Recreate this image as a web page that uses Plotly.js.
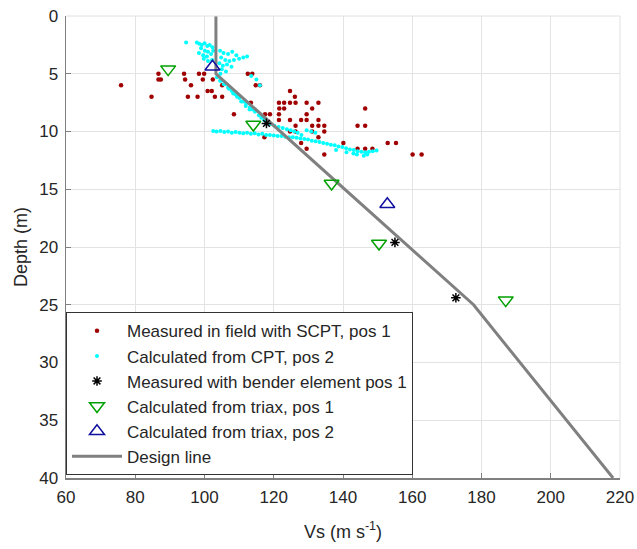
<!DOCTYPE html>
<html>
<head>
<meta charset="utf-8">
<script src="https://cdn.plot.ly/plotly-3.0.1.min.js"></script>
<style>html,body{margin:0;padding:0;background:#fff}#chart{width:637px;height:549px}</style>
</head>
<body>
<div id="chart"></div>
<script>
// Measured in field with SCPT, pos 1
const scptVs = [75.9,84.7,86.7,86.7,87.4,94.1,94.4,96.1,95.2,98.0,98.4,99.9,99.5,102.4,100.9,102.1,103.0,105.1,105.1,108.5,
  112.5,113.8,114.8,116.0,113.4,117.5,118.9,117.3,124.7,121.5,123.0,124.7,126.3,126.1,121.6,123.0,121.5,129.5,132.9,131.1,
  129.5,121.5,124.7,127.9,129.5,132.9,126.3,131.1,132.9,134.6,124.7,126.3,131.1,134.6,132.9,127.9,129.5,134.6,146.4,144.2,
  146.4,140.1,144.2,146.4,148.5,152.9,155.3,160.1,162.7];
const scptDepth = [6.0,7.0,5.0,5.5,5.5,5.0,5.5,6.0,7.0,7.0,5.0,5.0,5.5,5.5,6.5,6.5,7.0,7.0,6.0,8.5,
  5.0,5.0,6.0,6.0,7.5,8.5,8.5,10.5,6.5,7.5,7.5,7.5,7.5,7.0,8.0,8.0,8.5,7.5,7.5,8.0,
  8.5,9.0,9.0,9.0,9.0,9.0,9.5,9.5,9.5,9.5,10.0,10.0,10.0,10.0,10.5,11.0,11.5,12.0,8.0,9.5,
  9.5,11.0,11.5,11.5,11.5,11.0,11.0,12.0,12.0];

// Calculated from CPT, pos 2
const cptVs = [94.7,97.8,98.5,99.2,100.0,100.8,101.5,102.3,99.0,100.1,101.0,98.4,99.6,100.7,101.9,102.5,99.8,101.0,102.2,
  104.5,105.5,106.8,108.0,109.2,104.8,106.0,107.2,108.5,110.0,111.2,112.3,104.3,105.3,106.5,107.8,105.0,106.2,104.6,
  113.5,115.0,116.0,
  103.6,104.5,105.6,106.8,107.9,109.0,110.1,111.2,112.0,113.1,113.9,114.6,115.7,116.4,117.2,118.0,119.0,120.2,121.4,122.6,123.8,
  104.8,105.9,107.1,108.3,109.4,110.6,111.9,113.0,
  102.5,103.5,104.6,105.7,106.8,107.9,109.0,110.1,111.2,112.3,113.4,114.5,115.6,116.7,117.8,118.9,120.0,121.1,122.2,123.3,124.4,125.5,
  126.6,127.7,128.8,129.9,131.0,132.1,133.2,134.3,135.4,136.5,137.6,138.7,139.8,140.9,142.0,143.1,144.2,145.3,146.4,147.5,148.6,149.7,
  124.9,125.9,126.9,128.0,129.5,130.8,132.0,
  138.0,141.0,144.0,146.0,143.0,147.0];
const cptDepth = [2.3,2.3,2.4,2.5,2.35,2.6,2.5,2.7,2.8,3.0,3.1,3.2,3.4,3.5,3.3,3.0,3.7,3.9,3.8,
  3.0,3.2,3.3,3.1,3.4,3.6,3.8,3.9,3.8,3.7,3.6,3.5,4.1,4.3,4.2,4.4,4.6,4.8,5.0,
  5.2,5.5,6.0,
  5.3,5.6,5.9,6.2,6.5,6.8,7.1,7.4,7.6,7.9,8.1,8.3,8.6,8.8,9.0,9.2,9.35,9.5,9.6,9.7,9.8,
  5.6,5.9,6.3,6.7,7.0,7.4,7.8,8.1,
  9.95,10.0,9.95,10.05,10.0,10.1,10.05,10.1,10.15,10.1,10.2,10.15,10.25,10.2,10.3,10.3,10.35,10.4,10.4,10.45,10.5,10.5,
  10.55,10.6,10.65,10.7,10.8,10.85,10.9,11.0,11.05,11.15,11.2,11.3,11.35,11.45,11.55,11.6,11.7,11.75,11.8,11.75,11.7,11.65,
  9.9,10.0,10.1,10.3,9.9,10.0,10.1,
  11.6,11.8,12.0,12.1,11.9,12.0];

// Measured with bender element pos 1
const benderVs = [117.9, 155.0, 172.6];
const benderDepth = [9.3, 19.6, 24.4];

// Calculated from triax, pos 1
const triax1Vs = [89.5, 114.1, 136.7, 150.4, 187.0];
const triax1Depth = [4.6, 9.4, 14.5, 19.7, 24.6];

// Calculated from triax, pos 2
const triax2Vs = [102.3, 152.8];
const triax2Depth = [4.4, 16.3];

// Design line
const designVs = [103.3, 103.3, 177.7, 218.0];
const designDepth = [0, 5, 25, 40];

const font = 'Arial, "Liberation Sans", sans-serif';
const txt = '#262626';

const traces = [
  {x: scptVs, y: scptDepth, mode: 'markers', type: 'scatter', name: 'Measured in field with SCPT, pos 1',
   legendrank: 1, marker: {color: '#a00000', size: 4.5}},
  {x: cptVs, y: cptDepth, mode: 'markers', type: 'scatter', name: 'Calculated from CPT, pos 2',
   legendrank: 2, marker: {color: '#00ffff', size: 4}},
  {x: designVs, y: designDepth, mode: 'lines', type: 'scatter', name: 'Design line',
   legendrank: 6, line: {color: '#808080', width: 3}},
  {x: benderVs, y: benderDepth, mode: 'markers', type: 'scatter', name: 'Measured with bender element pos 1',
   legendrank: 3, marker: {symbol: 'asterisk-open', size: 8, color: '#000', line: {color: '#000', width: 1.5}}},
  {x: triax1Vs, y: triax1Depth, mode: 'markers', type: 'scatter', name: 'Calculated from triax, pos 1',
   legendrank: 4, marker: {symbol: 'triangle-down-open', size: 13, color: '#00a000', line: {color: '#00a000', width: 1.5}}},
  {x: triax2Vs, y: triax2Depth, mode: 'markers', type: 'scatter', name: 'Calculated from triax, pos 2',
   legendrank: 5, marker: {symbol: 'triangle-up-open', size: 13, color: '#1010a0', line: {color: '#1010a0', width: 1.5}}}
];

const layout = {
  width: 637, height: 549,
  margin: {l: 66, r: 17, t: 16, b: 71},
  paper_bgcolor: '#fff', plot_bgcolor: '#fff',
  font: {family: font, size: 17, color: txt},
  showlegend: true,
  legend: {x: 0, y: 0.006, xanchor: 'left', yanchor: 'bottom', bgcolor: '#fff',
    bordercolor: '#333', borderwidth: 1, font: {family: font, size: 17, color: txt},
    itemwidth: 50, tracegroupgap: 0, traceorder: 'normal'},
  xaxis: {range: [60, 220], dtick: 20, tick0: 60, showgrid: true, gridcolor: '#e3e3e3', gridwidth: 1,
    zeroline: false, showline: true, linecolor: '#808080', linewidth: 1.5, mirror: false,
    ticks: 'inside', ticklen: 5, tickcolor: '#808080', ticklabelstandoff: 3,
    tickfont: {size: 17, color: txt},
    title: {text: 'Vs (m s<sup>-1</sup>)', font: {size: 18, color: txt}, standoff: 19}},
  yaxis: {range: [40, 0], dtick: 5, tick0: 0, showgrid: true, gridcolor: '#e3e3e3', gridwidth: 1,
    zeroline: false, showline: true, linecolor: '#808080', linewidth: 1.5, mirror: false,
    ticks: 'inside', ticklen: 5, tickcolor: '#808080', ticklabelstandoff: 3,
    tickfont: {size: 17, color: txt},
    title: {text: 'Depth (m)', font: {size: 18, color: txt}, standoff: 7}},
  shapes: [
    {type: 'line', xref: 'paper', yref: 'paper', x0: 0, x1: 1, y0: 1, y1: 1, line: {color: '#e0e0e0', width: 1}},
    {type: 'line', xref: 'paper', yref: 'paper', x0: 1, x1: 1, y0: 0, y1: 1, line: {color: '#e0e0e0', width: 1}}
  ]
};

Plotly.newPlot('chart', traces, layout, {displayModeBar: false, staticPlot: true});
</script>
</body>
</html>
